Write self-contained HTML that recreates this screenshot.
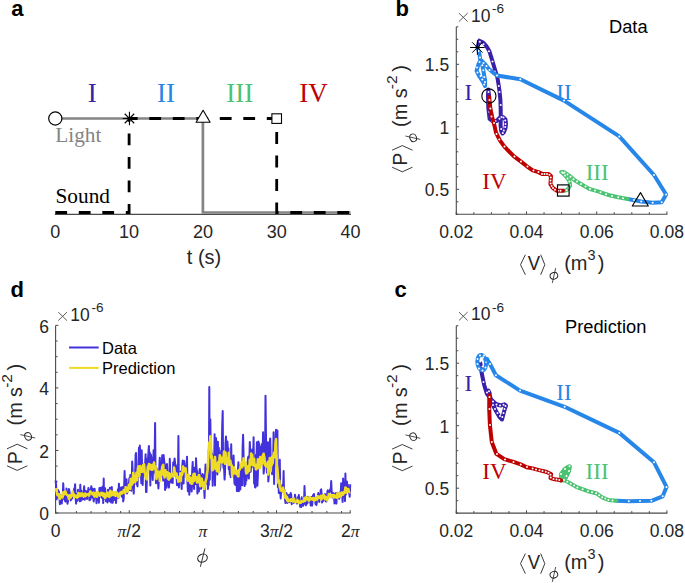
<!DOCTYPE html>
<html><head><meta charset="utf-8"><style>html,body{margin:0;padding:0;background:#fff;}svg{display:block;}</style></head>
<body><svg width="685" height="583" viewBox="0 0 685 583">
<rect width="685" height="583" fill="#fff"/>
<text x="11.20" y="16.40" font-family="Liberation Sans" font-size="22" text-anchor="start" fill="#000" font-weight="bold" >a</text>
<text x="395.60" y="16.40" font-family="Liberation Sans" font-size="22" text-anchor="start" fill="#000" font-weight="bold" >b</text>
<text x="10.60" y="297.30" font-family="Liberation Sans" font-size="22" text-anchor="start" fill="#000" font-weight="bold" >d</text>
<text x="394.60" y="297.30" font-family="Liberation Sans" font-size="22" text-anchor="start" fill="#000" font-weight="bold" >c</text>
<line x1="54.80" y1="214.40" x2="351.00" y2="214.40" stroke="#4a4a4a" stroke-width="1.1"/>
<text x="55.30" y="238.30" font-family="Liberation Sans" font-size="18" text-anchor="middle" fill="#262626" >0</text>
<text x="129.10" y="238.30" font-family="Liberation Sans" font-size="18" text-anchor="middle" fill="#262626" >10</text>
<text x="202.90" y="238.30" font-family="Liberation Sans" font-size="18" text-anchor="middle" fill="#262626" >20</text>
<text x="276.70" y="238.30" font-family="Liberation Sans" font-size="18" text-anchor="middle" fill="#262626" >30</text>
<text x="350.50" y="238.30" font-family="Liberation Sans" font-size="18" text-anchor="middle" fill="#262626" >40</text>
<text x="204.00" y="263.50" font-family="Liberation Sans" font-size="20" text-anchor="middle" fill="#262626" >t (s)</text>
<path d="M55.3,118.5 H202.89999999999998 V212.5 H350.5" fill="none" stroke="#848484" stroke-width="2.7"/>
<path d="M55.3,212.5 H129.1 V118.5 H276.7 V212.5 H350.5" fill="none" stroke="#000" stroke-width="2.8" stroke-dasharray="11.8 11.7"/>
<circle cx="55.3" cy="118.5" r="6.6" fill="#fff" stroke="#000" stroke-width="1.2"/>
<path d="M122.75,118.50L136.15,118.50M124.71,113.76L134.19,123.24M129.45,111.80L129.45,125.20M134.19,113.76L124.71,123.24" stroke="#000" stroke-width="1.1" fill="none"/>
<path d="M203.1,110.3 L210.1,122.2 L196.1,122.2 Z" fill="#fff" stroke="#000" stroke-width="1.1" stroke-linejoin="round"/>
<rect x="271.90" y="113.8" width="9.6" height="9.6" fill="#fff" stroke="#000" stroke-width="1.1"/>
<text x="92.20" y="101.80" font-family="Liberation Serif" font-size="27" text-anchor="middle" fill="#3a1fa8" >I</text>
<text x="166.00" y="101.80" font-family="Liberation Serif" font-size="27" text-anchor="middle" fill="#2787e8" >II</text>
<text x="239.80" y="101.80" font-family="Liberation Serif" font-size="27" text-anchor="middle" fill="#4cc373" >III</text>
<text x="313.60" y="101.80" font-family="Liberation Serif" font-size="27" text-anchor="middle" fill="#be0000" >IV</text>
<text x="55.30" y="142.00" font-family="Liberation Serif" font-size="21.3" text-anchor="start" fill="#848484" >Light</text>
<text x="55.50" y="202.60" font-family="Liberation Serif" font-size="21.3" text-anchor="start" fill="#000" >Sound</text>
<line x1="456.30" y1="26.80" x2="456.30" y2="214.70" stroke="#4a4a4a" stroke-width="1.1"/>
<line x1="455.80" y1="214.20" x2="667.40" y2="214.20" stroke="#4a4a4a" stroke-width="1.1"/>
<line x1="456.30" y1="214.20" x2="456.30" y2="211.40" stroke="#4a4a4a" stroke-width="1.0"/>
<line x1="473.85" y1="214.20" x2="473.85" y2="212.20" stroke="#4a4a4a" stroke-width="1.0"/>
<line x1="491.40" y1="214.20" x2="491.40" y2="212.20" stroke="#4a4a4a" stroke-width="1.0"/>
<line x1="508.95" y1="214.20" x2="508.95" y2="212.20" stroke="#4a4a4a" stroke-width="1.0"/>
<line x1="526.50" y1="214.20" x2="526.50" y2="211.40" stroke="#4a4a4a" stroke-width="1.0"/>
<line x1="544.05" y1="214.20" x2="544.05" y2="212.20" stroke="#4a4a4a" stroke-width="1.0"/>
<line x1="561.60" y1="214.20" x2="561.60" y2="212.20" stroke="#4a4a4a" stroke-width="1.0"/>
<line x1="579.15" y1="214.20" x2="579.15" y2="212.20" stroke="#4a4a4a" stroke-width="1.0"/>
<line x1="596.70" y1="214.20" x2="596.70" y2="211.40" stroke="#4a4a4a" stroke-width="1.0"/>
<line x1="614.25" y1="214.20" x2="614.25" y2="212.20" stroke="#4a4a4a" stroke-width="1.0"/>
<line x1="631.80" y1="214.20" x2="631.80" y2="212.20" stroke="#4a4a4a" stroke-width="1.0"/>
<line x1="649.35" y1="214.20" x2="649.35" y2="212.20" stroke="#4a4a4a" stroke-width="1.0"/>
<line x1="666.90" y1="214.20" x2="666.90" y2="211.40" stroke="#4a4a4a" stroke-width="1.0"/>
<line x1="456.30" y1="214.30" x2="458.30" y2="214.30" stroke="#4a4a4a" stroke-width="1.0"/>
<line x1="456.30" y1="201.80" x2="458.30" y2="201.80" stroke="#4a4a4a" stroke-width="1.0"/>
<line x1="456.30" y1="189.30" x2="459.10" y2="189.30" stroke="#4a4a4a" stroke-width="1.0"/>
<line x1="456.30" y1="176.80" x2="458.30" y2="176.80" stroke="#4a4a4a" stroke-width="1.0"/>
<line x1="456.30" y1="164.30" x2="458.30" y2="164.30" stroke="#4a4a4a" stroke-width="1.0"/>
<line x1="456.30" y1="151.80" x2="458.30" y2="151.80" stroke="#4a4a4a" stroke-width="1.0"/>
<line x1="456.30" y1="139.30" x2="458.30" y2="139.30" stroke="#4a4a4a" stroke-width="1.0"/>
<line x1="456.30" y1="126.80" x2="459.10" y2="126.80" stroke="#4a4a4a" stroke-width="1.0"/>
<line x1="456.30" y1="114.30" x2="458.30" y2="114.30" stroke="#4a4a4a" stroke-width="1.0"/>
<line x1="456.30" y1="101.80" x2="458.30" y2="101.80" stroke="#4a4a4a" stroke-width="1.0"/>
<line x1="456.30" y1="89.30" x2="458.30" y2="89.30" stroke="#4a4a4a" stroke-width="1.0"/>
<line x1="456.30" y1="76.80" x2="458.30" y2="76.80" stroke="#4a4a4a" stroke-width="1.0"/>
<line x1="456.30" y1="64.30" x2="459.10" y2="64.30" stroke="#4a4a4a" stroke-width="1.0"/>
<line x1="456.30" y1="51.80" x2="458.30" y2="51.80" stroke="#4a4a4a" stroke-width="1.0"/>
<line x1="456.30" y1="39.30" x2="458.30" y2="39.30" stroke="#4a4a4a" stroke-width="1.0"/>
<line x1="456.30" y1="26.80" x2="458.30" y2="26.80" stroke="#4a4a4a" stroke-width="1.0"/>
<text x="456.30" y="238.30" font-family="Liberation Sans" font-size="17.5" text-anchor="middle" fill="#262626" >0.02</text>
<text x="526.50" y="238.30" font-family="Liberation Sans" font-size="17.5" text-anchor="middle" fill="#262626" >0.04</text>
<text x="596.70" y="238.30" font-family="Liberation Sans" font-size="17.5" text-anchor="middle" fill="#262626" >0.06</text>
<text x="666.90" y="238.30" font-family="Liberation Sans" font-size="17.5" text-anchor="middle" fill="#262626" >0.08</text>
<text x="449.20" y="196.10" font-family="Liberation Sans" font-size="17.5" text-anchor="end" fill="#262626" >0.5</text>
<text x="449.20" y="133.60" font-family="Liberation Sans" font-size="17.5" text-anchor="end" fill="#262626" >1</text>
<text x="449.20" y="71.10" font-family="Liberation Sans" font-size="17.5" text-anchor="end" fill="#262626" >1.5</text>
<path d="M458.90,13.10 L467.70,21.60 M467.70,13.10 L458.90,21.60" stroke="#555" stroke-width="0.95" fill="none"/>
<text x="471.00" y="21.50" font-family="Liberation Sans" font-size="17.5" text-anchor="start" fill="#262626" >10</text>
<text x="492.10" y="13.20" font-family="Liberation Sans" font-size="13.6" text-anchor="start" fill="#262626" >-6</text>
<g transform="translate(406.80,171.80) rotate(-90)"><path d="M4.6,-14.7 L0,-4.5 L4.6,5.7" fill="none" stroke="#262626" stroke-width="0.9"/><text x="6.4" y="0" font-family="Liberation Sans" font-size="19.3" fill="#262626">P</text><path d="M21.6,-14.7 L26.2,-4.5 L21.6,5.7" fill="none" stroke="#262626" stroke-width="0.9"/><ellipse cx="34.00" cy="6.40" rx="3.9" ry="3.3" transform="rotate(-22 34.00 6.40)" fill="none" stroke="#262626" stroke-width="0.95"/><line x1="35.80" y1="-1.40" x2="32.40" y2="13.50" stroke="#262626" stroke-width="0.81"/><text x="44.8" y="0" font-family="Liberation Sans" font-size="20" fill="#262626">(</text><text x="51.6" y="0" font-family="Liberation Sans" font-size="20" fill="#262626">m</text><text x="73.5" y="0" font-family="Liberation Sans" font-size="20" fill="#262626">s</text><text x="82.6" y="-10" font-family="Liberation Sans" font-size="15.5" fill="#262626">-2</text><text x="100.0" y="0" font-family="Liberation Sans" font-size="20" fill="#262626">)</text></g>
<path d="M525.40,254.70 L520.50,264.70 L525.40,274.80" fill="none" stroke="#262626" stroke-width="0.9"/>
<text x="527.80" y="270.00" font-family="Liberation Sans" font-size="19.5" fill="#262626" transform="translate(527.80,270.00) scale(0.95,1.06) translate(-527.80,-270.00)">V</text>
<path d="M540.70,254.70 L544.80,264.70 L540.70,274.80" fill="none" stroke="#262626" stroke-width="0.9"/>
<ellipse cx="553.90" cy="275.80" rx="3.9" ry="3.3" transform="rotate(-22 553.90 275.80)" fill="none" stroke="#262626" stroke-width="0.95"/><line x1="555.70" y1="268.10" x2="552.30" y2="283.00" stroke="#262626" stroke-width="0.81"/>
<text x="564.30" y="270.00" font-family="Liberation Sans" font-size="20" text-anchor="start" fill="#262626" >(</text>
<text x="570.70" y="270.00" font-family="Liberation Sans" font-size="20" text-anchor="start" fill="#262626" >m</text>
<text x="587.50" y="260.20" font-family="Liberation Sans" font-size="14.5" text-anchor="start" fill="#262626" >3</text>
<text x="597.70" y="270.00" font-family="Liberation Sans" font-size="20" text-anchor="start" fill="#262626" >)</text>
<text x="609.00" y="33.30" font-family="Liberation Sans" font-size="18.3" text-anchor="start" fill="#000" >Data</text>
<line x1="456.30" y1="325.70" x2="456.30" y2="513.60" stroke="#4a4a4a" stroke-width="1.1"/>
<line x1="455.80" y1="513.10" x2="667.40" y2="513.10" stroke="#4a4a4a" stroke-width="1.1"/>
<line x1="456.30" y1="513.10" x2="456.30" y2="510.30" stroke="#4a4a4a" stroke-width="1.0"/>
<line x1="473.85" y1="513.10" x2="473.85" y2="511.10" stroke="#4a4a4a" stroke-width="1.0"/>
<line x1="491.40" y1="513.10" x2="491.40" y2="511.10" stroke="#4a4a4a" stroke-width="1.0"/>
<line x1="508.95" y1="513.10" x2="508.95" y2="511.10" stroke="#4a4a4a" stroke-width="1.0"/>
<line x1="526.50" y1="513.10" x2="526.50" y2="510.30" stroke="#4a4a4a" stroke-width="1.0"/>
<line x1="544.05" y1="513.10" x2="544.05" y2="511.10" stroke="#4a4a4a" stroke-width="1.0"/>
<line x1="561.60" y1="513.10" x2="561.60" y2="511.10" stroke="#4a4a4a" stroke-width="1.0"/>
<line x1="579.15" y1="513.10" x2="579.15" y2="511.10" stroke="#4a4a4a" stroke-width="1.0"/>
<line x1="596.70" y1="513.10" x2="596.70" y2="510.30" stroke="#4a4a4a" stroke-width="1.0"/>
<line x1="614.25" y1="513.10" x2="614.25" y2="511.10" stroke="#4a4a4a" stroke-width="1.0"/>
<line x1="631.80" y1="513.10" x2="631.80" y2="511.10" stroke="#4a4a4a" stroke-width="1.0"/>
<line x1="649.35" y1="513.10" x2="649.35" y2="511.10" stroke="#4a4a4a" stroke-width="1.0"/>
<line x1="666.90" y1="513.10" x2="666.90" y2="510.30" stroke="#4a4a4a" stroke-width="1.0"/>
<line x1="456.30" y1="513.20" x2="458.30" y2="513.20" stroke="#4a4a4a" stroke-width="1.0"/>
<line x1="456.30" y1="500.70" x2="458.30" y2="500.70" stroke="#4a4a4a" stroke-width="1.0"/>
<line x1="456.30" y1="488.20" x2="459.10" y2="488.20" stroke="#4a4a4a" stroke-width="1.0"/>
<line x1="456.30" y1="475.70" x2="458.30" y2="475.70" stroke="#4a4a4a" stroke-width="1.0"/>
<line x1="456.30" y1="463.20" x2="458.30" y2="463.20" stroke="#4a4a4a" stroke-width="1.0"/>
<line x1="456.30" y1="450.70" x2="458.30" y2="450.70" stroke="#4a4a4a" stroke-width="1.0"/>
<line x1="456.30" y1="438.20" x2="458.30" y2="438.20" stroke="#4a4a4a" stroke-width="1.0"/>
<line x1="456.30" y1="425.70" x2="459.10" y2="425.70" stroke="#4a4a4a" stroke-width="1.0"/>
<line x1="456.30" y1="413.20" x2="458.30" y2="413.20" stroke="#4a4a4a" stroke-width="1.0"/>
<line x1="456.30" y1="400.70" x2="458.30" y2="400.70" stroke="#4a4a4a" stroke-width="1.0"/>
<line x1="456.30" y1="388.20" x2="458.30" y2="388.20" stroke="#4a4a4a" stroke-width="1.0"/>
<line x1="456.30" y1="375.70" x2="458.30" y2="375.70" stroke="#4a4a4a" stroke-width="1.0"/>
<line x1="456.30" y1="363.20" x2="459.10" y2="363.20" stroke="#4a4a4a" stroke-width="1.0"/>
<line x1="456.30" y1="350.70" x2="458.30" y2="350.70" stroke="#4a4a4a" stroke-width="1.0"/>
<line x1="456.30" y1="338.20" x2="458.30" y2="338.20" stroke="#4a4a4a" stroke-width="1.0"/>
<line x1="456.30" y1="325.70" x2="458.30" y2="325.70" stroke="#4a4a4a" stroke-width="1.0"/>
<text x="456.30" y="537.20" font-family="Liberation Sans" font-size="17.5" text-anchor="middle" fill="#262626" >0.02</text>
<text x="526.50" y="537.20" font-family="Liberation Sans" font-size="17.5" text-anchor="middle" fill="#262626" >0.04</text>
<text x="596.70" y="537.20" font-family="Liberation Sans" font-size="17.5" text-anchor="middle" fill="#262626" >0.06</text>
<text x="666.90" y="537.20" font-family="Liberation Sans" font-size="17.5" text-anchor="middle" fill="#262626" >0.08</text>
<text x="449.20" y="495.00" font-family="Liberation Sans" font-size="17.5" text-anchor="end" fill="#262626" >0.5</text>
<text x="449.20" y="432.50" font-family="Liberation Sans" font-size="17.5" text-anchor="end" fill="#262626" >1</text>
<text x="449.20" y="370.00" font-family="Liberation Sans" font-size="17.5" text-anchor="end" fill="#262626" >1.5</text>
<path d="M458.90,312.00 L467.70,320.50 M467.70,312.00 L458.90,320.50" stroke="#555" stroke-width="0.95" fill="none"/>
<text x="471.00" y="320.40" font-family="Liberation Sans" font-size="17.5" text-anchor="start" fill="#262626" >10</text>
<text x="492.10" y="312.10" font-family="Liberation Sans" font-size="13.6" text-anchor="start" fill="#262626" >-6</text>
<g transform="translate(406.80,470.70) rotate(-90)"><path d="M4.6,-14.7 L0,-4.5 L4.6,5.7" fill="none" stroke="#262626" stroke-width="0.9"/><text x="6.4" y="0" font-family="Liberation Sans" font-size="19.3" fill="#262626">P</text><path d="M21.6,-14.7 L26.2,-4.5 L21.6,5.7" fill="none" stroke="#262626" stroke-width="0.9"/><ellipse cx="34.00" cy="6.40" rx="3.9" ry="3.3" transform="rotate(-22 34.00 6.40)" fill="none" stroke="#262626" stroke-width="0.95"/><line x1="35.80" y1="-1.40" x2="32.40" y2="13.50" stroke="#262626" stroke-width="0.81"/><text x="44.8" y="0" font-family="Liberation Sans" font-size="20" fill="#262626">(</text><text x="51.6" y="0" font-family="Liberation Sans" font-size="20" fill="#262626">m</text><text x="73.5" y="0" font-family="Liberation Sans" font-size="20" fill="#262626">s</text><text x="82.6" y="-10" font-family="Liberation Sans" font-size="15.5" fill="#262626">-2</text><text x="100.0" y="0" font-family="Liberation Sans" font-size="20" fill="#262626">)</text></g>
<path d="M525.40,553.60 L520.50,563.60 L525.40,573.70" fill="none" stroke="#262626" stroke-width="0.9"/>
<text x="527.80" y="568.90" font-family="Liberation Sans" font-size="19.5" fill="#262626" transform="translate(527.80,568.90) scale(0.95,1.06) translate(-527.80,-568.90)">V</text>
<path d="M540.70,553.60 L544.80,563.60 L540.70,573.70" fill="none" stroke="#262626" stroke-width="0.9"/>
<ellipse cx="553.90" cy="574.70" rx="3.9" ry="3.3" transform="rotate(-22 553.90 574.70)" fill="none" stroke="#262626" stroke-width="0.95"/><line x1="555.70" y1="567.00" x2="552.30" y2="581.90" stroke="#262626" stroke-width="0.81"/>
<text x="564.30" y="568.90" font-family="Liberation Sans" font-size="20" text-anchor="start" fill="#262626" >(</text>
<text x="570.70" y="568.90" font-family="Liberation Sans" font-size="20" text-anchor="start" fill="#262626" >m</text>
<text x="587.50" y="559.10" font-family="Liberation Sans" font-size="14.5" text-anchor="start" fill="#262626" >3</text>
<text x="597.70" y="568.90" font-family="Liberation Sans" font-size="20" text-anchor="start" fill="#262626" >)</text>
<text x="565.00" y="333.30" font-family="Liberation Sans" font-size="18.3" text-anchor="start" fill="#000" >Prediction</text>
<polyline points="489.2,97.0 488.3,89.5 488.0,96.0 488.3,107.7 489.6,118.9 493.0,121.5 496.5,121.0 499.5,118.0 503.0,117.0 505.5,119.5 506.0,124.0 505.5,128.0 504.0,132.0 502.5,133.5 501.2,131.0 500.6,126.0 500.7,120.0 500.7,110.0 500.4,100.0 499.5,91.0 498.8,86.0 497.4,77.5 494.5,68.0 491.7,58.6 489.3,51.0 486.5,46.3 483.2,42.5 479.4,40.7 477.5,47.3" fill="none" stroke="#3a1fa8" stroke-width="4.0" stroke-linejoin="round" stroke-linecap="round" />
<g fill="#fff"><circle cx="488.5" cy="92.0" r="1.0"/><circle cx="488.2" cy="103.0" r="1.0"/><circle cx="489.3" cy="112.0" r="1.0"/><circle cx="492.0" cy="121.0" r="1.0"/><circle cx="495.5" cy="121.0" r="1.0"/><circle cx="499.5" cy="118.7" r="1.0"/><circle cx="501.5" cy="117.0" r="1.0"/><circle cx="503.5" cy="117.5" r="1.0"/><circle cx="505.2" cy="120.5" r="1.0"/><circle cx="505.5" cy="124.0" r="1.0"/><circle cx="505.2" cy="127.0" r="1.0"/><circle cx="503.8" cy="130.5" r="1.0"/><circle cx="502.8" cy="133.0" r="1.0"/><circle cx="501.2" cy="129.0" r="1.0"/><circle cx="500.7" cy="105.0" r="1.0"/><circle cx="499.5" cy="92.0" r="1.0"/><circle cx="498.8" cy="86.0" r="1.0"/><circle cx="496.2" cy="75.5" r="1.0"/><circle cx="494.8" cy="71.5" r="1.0"/><circle cx="492.5" cy="61.5" r="1.0"/><circle cx="489.0" cy="51.3" r="1.0"/><circle cx="483.5" cy="44.2" r="1.0"/><circle cx="479.8" cy="41.8" r="1.0"/></g>
<polyline points="477.5,47.3 479.4,53.9 480.4,60.5 478.5,64.2 476.6,70.8 479.4,76.5 483.2,82.2 485.1,86.0 485.1,80.3 483.7,72.7 482.3,65.2 481.3,60.5 485.1,64.2 488.9,69.0 494.5,73.7 497.0,75.5 520.3,79.3 564.0,100.6 619.3,136.4 654.0,175.0 666.1,194.5 661.7,202.2 652.7,202.7 641.2,201.5 627.8,199.0" fill="none" stroke="#2787e8" stroke-width="4.0" stroke-linejoin="round" stroke-linecap="round" />
<g fill="#fff"><circle cx="478.5" cy="51.0" r="1.0"/><circle cx="480.0" cy="57.5" r="1.0"/><circle cx="479.5" cy="62.0" r="1.0"/><circle cx="477.0" cy="67.5" r="1.0"/><circle cx="477.5" cy="72.5" r="1.0"/><circle cx="480.5" cy="76.0" r="1.0"/><circle cx="482.3" cy="79.5" r="1.0"/><circle cx="484.2" cy="84.5" r="1.0"/><circle cx="485.0" cy="82.0" r="1.0"/><circle cx="484.3" cy="77.0" r="1.0"/><circle cx="483.3" cy="70.3" r="1.0"/><circle cx="482.3" cy="65.3" r="1.0"/><circle cx="483.5" cy="63.0" r="1.0"/><circle cx="486.5" cy="66.0" r="1.0"/><circle cx="489.5" cy="70.0" r="1.0"/><circle cx="497.0" cy="75.5" r="1.0"/><circle cx="520.3" cy="79.3" r="1.0"/><circle cx="564.0" cy="100.6" r="1.0"/><circle cx="619.3" cy="136.4" r="1.0"/><circle cx="654.0" cy="175.0" r="1.0"/><circle cx="666.1" cy="194.5" r="1.0"/><circle cx="661.7" cy="202.2" r="1.0"/><circle cx="652.7" cy="202.7" r="1.0"/><circle cx="641.2" cy="201.5" r="1.0"/><circle cx="634.0" cy="200.0" r="1.0"/></g>
<polyline points="563.0,190.8 566.6,190.2 568.7,188.1 570.2,185.4 569.6,181.8 567.8,178.8 565.4,175.8 562.4,172.8 561.2,171.9 563.6,171.9 567.8,174.6 572.0,177.9 575.0,180.6 579.2,183.0 583.4,185.4 589.3,188.9 598.9,191.6 602.1,192.9 608.5,195.0 618.2,197.3 627.8,199.0" fill="none" stroke="#4cc373" stroke-width="4.0" stroke-linejoin="round" stroke-linecap="round" />
<g fill="#fff"><circle cx="566.6" cy="190.2" r="1.0"/><circle cx="568.7" cy="188.1" r="1.0"/><circle cx="569.8" cy="185.0" r="1.0"/><circle cx="569.4" cy="181.5" r="1.0"/><circle cx="567.5" cy="178.5" r="1.0"/><circle cx="565.0" cy="175.5" r="1.0"/><circle cx="563.0" cy="173.0" r="1.0"/><circle cx="562.0" cy="172.2" r="1.0"/><circle cx="564.5" cy="172.4" r="1.0"/><circle cx="567.5" cy="174.4" r="1.0"/><circle cx="570.5" cy="176.8" r="1.0"/><circle cx="573.5" cy="179.3" r="1.0"/><circle cx="577.0" cy="181.6" r="1.0"/><circle cx="581.0" cy="184.0" r="1.0"/><circle cx="585.5" cy="186.6" r="1.0"/><circle cx="590.0" cy="189.0" r="1.0"/><circle cx="595.0" cy="190.6" r="1.0"/><circle cx="600.5" cy="192.2" r="1.0"/><circle cx="606.0" cy="194.3" r="1.0"/><circle cx="612.0" cy="196.0" r="1.0"/><circle cx="618.2" cy="197.3" r="1.0"/><circle cx="623.0" cy="198.2" r="1.0"/></g>
<polyline points="563.0,190.8 557.0,190.8 552.8,187.8 550.4,184.2 550.7,180.6 551.0,176.1 548.6,174.0 545.0,174.0 542.0,173.9 538.5,172.1 532.7,170.4 526.9,166.3 521.0,161.6 514.0,156.4 507.6,150.0 504.2,146.3 499.9,140.3 496.0,132.6 494.3,124.9 492.2,117.2 490.4,108.6 489.2,97.0" fill="none" stroke="#be0000" stroke-width="4.0" stroke-linejoin="round" stroke-linecap="round" />
<g fill="#fff"><circle cx="560.5" cy="190.8" r="1.0"/><circle cx="558.0" cy="190.8" r="1.0"/><circle cx="555.0" cy="189.8" r="1.0"/><circle cx="553.0" cy="188.0" r="1.0"/><circle cx="551.6" cy="186.0" r="1.0"/><circle cx="550.6" cy="183.5" r="1.0"/><circle cx="550.5" cy="180.5" r="1.0"/><circle cx="550.8" cy="177.5" r="1.0"/><circle cx="549.5" cy="174.7" r="1.0"/><circle cx="547.0" cy="174.0" r="1.0"/><circle cx="544.5" cy="174.0" r="1.0"/><circle cx="542.0" cy="173.9" r="1.0"/><circle cx="538.5" cy="172.1" r="1.0"/><circle cx="533.5" cy="170.4" r="1.0"/><circle cx="527.5" cy="166.6" r="1.0"/><circle cx="521.0" cy="161.6" r="1.0"/><circle cx="514.5" cy="156.4" r="1.0"/><circle cx="504.5" cy="146.4" r="1.0"/><circle cx="499.3" cy="139.4" r="1.0"/><circle cx="496.5" cy="134.0" r="1.0"/><circle cx="494.0" cy="123.0" r="1.0"/><circle cx="491.5" cy="116.5" r="1.0"/><circle cx="490.4" cy="108.6" r="1.0"/><circle cx="489.5" cy="100.0" r="1.0"/></g>
<path d="M470.10,47.50L484.70,47.50M472.24,42.34L482.56,52.66M477.40,40.20L477.40,54.80M482.56,42.34L472.24,52.66" stroke="#000" stroke-width="1.0" fill="none"/>
<circle cx="488.9" cy="96" r="7.1" fill="none" stroke="#000" stroke-width="1.1"/>
<rect x="557.5" y="184.9" width="11.6" height="11.2" fill="none" stroke="#000" stroke-width="1.2"/>
<path d="M640.5,192.6 L648.3,206.0 L632.3,206.0 Z" fill="none" stroke="#000" stroke-width="1.1" stroke-linejoin="round"/>
<text x="468.40" y="99.70" font-family="Liberation Serif" font-size="23" text-anchor="middle" fill="#3a1fa8" >I</text>
<text x="564.00" y="99.70" font-family="Liberation Serif" font-size="23" text-anchor="middle" fill="#2787e8" >II</text>
<text x="597.20" y="179.50" font-family="Liberation Serif" font-size="23" text-anchor="middle" fill="#4cc373" >III</text>
<text x="494.50" y="188.80" font-family="Liberation Serif" font-size="23" text-anchor="middle" fill="#be0000" >IV</text>
<polyline points="480.3,362.9 481.8,373.7 484.2,385.0 486.9,393.9 491.7,400.1 496.0,404.0 500.6,405.5 504.5,404.3 506.0,405.5 504.5,410.0 502.0,419.5 499.5,417.0 496.0,411.0 492.5,404.0 490.7,398.7 489.0,391.9 488.3,390.5 489.8,393.5" fill="none" stroke="#3a1fa8" stroke-width="4.0" stroke-linejoin="round" stroke-linecap="round" />
<g fill="#fff"><circle cx="483.5" cy="382.0" r="1.0"/><circle cx="487.0" cy="392.5" r="1.0"/><circle cx="489.0" cy="391.2" r="1.0"/><circle cx="493.0" cy="401.5" r="1.0"/><circle cx="496.5" cy="404.5" r="1.0"/><circle cx="500.0" cy="405.5" r="1.0"/><circle cx="503.5" cy="404.8" r="1.0"/><circle cx="505.5" cy="406.0" r="1.0"/><circle cx="504.5" cy="409.0" r="1.0"/><circle cx="503.5" cy="413.0" r="1.0"/><circle cx="502.3" cy="417.0" r="1.0"/><circle cx="500.0" cy="416.0" r="1.0"/><circle cx="497.5" cy="413.0" r="1.0"/><circle cx="495.0" cy="409.0" r="1.0"/><circle cx="493.0" cy="405.0" r="1.0"/></g>
<polyline points="485.1,358.8 484.3,357.2 483.3,355.9 482.2,355.2 481.1,354.9 480.0,355.2 479.0,355.9 478.2,357.2 477.7,358.8 477.4,360.6 477.4,362.6 477.7,364.6 478.3,366.4 479.1,368.0 480.1,369.3 481.2,370.0 482.3,370.3 483.4,370.0 484.4,369.3 485.2,368.0 485.7,366.4 486.0,364.6 486.0,362.6 485.7,360.6 485.1,358.8 487.0,359.0" fill="none" stroke="#2787e8" stroke-width="4.0" stroke-linejoin="round" stroke-linecap="round" />
<g fill="#fff"><circle cx="484.0" cy="355.5" r="1.0"/><circle cx="480.0" cy="355.5" r="1.0"/><circle cx="477.5" cy="359.0" r="1.0"/><circle cx="477.5" cy="364.0" r="1.0"/><circle cx="479.0" cy="368.5" r="1.0"/><circle cx="482.5" cy="370.5" r="1.0"/><circle cx="485.5" cy="367.5" r="1.0"/><circle cx="486.3" cy="362.0" r="1.0"/><circle cx="483.0" cy="357.5" r="1.0"/><circle cx="480.3" cy="361.5" r="1.0"/><circle cx="482.5" cy="366.5" r="1.0"/><circle cx="487.0" cy="359.5" r="1.0"/><circle cx="488.8" cy="362.5" r="1.0"/></g>
<polyline points="487.0,359.0 490.0,364.0 495.9,375.3 520.0,390.6 564.6,406.8 619.3,432.9 654.0,462.3 666.5,486.9 662.7,496.3 651.4,500.8 640.0,501.1 628.8,501.2 616.5,500.8" fill="none" stroke="#2787e8" stroke-width="4.0" stroke-linejoin="round" stroke-linecap="round" />
<g fill="#fff"><circle cx="490.0" cy="364.0" r="1.0"/><circle cx="495.9" cy="375.3" r="1.0"/><circle cx="520.0" cy="390.6" r="1.0"/><circle cx="564.6" cy="406.8" r="1.0"/><circle cx="619.3" cy="432.9" r="1.0"/><circle cx="654.0" cy="462.3" r="1.0"/><circle cx="666.5" cy="486.9" r="1.0"/><circle cx="662.7" cy="496.3" r="1.0"/><circle cx="651.4" cy="500.8" r="1.0"/><circle cx="640.0" cy="501.1" r="1.0"/><circle cx="628.8" cy="501.2" r="1.0"/></g>
<polygon points="561,480.5 560.8,473.5 563.8,468.6 568,465.8 570.8,466 570.5,469 568.5,474 566.5,478.8 563.5,481.5" fill="#4cc373" stroke="#4cc373" stroke-width="2" stroke-linejoin="round"/>
<polyline points="561.0,480.5 561.0,474.0 565.0,469.0 569.5,466.3 569.0,471.0 566.5,476.0 564.0,480.0 567.4,481.8 577.4,487.4 587.9,491.2 596.1,493.2 602.2,497.3 608.4,500.0 616.5,500.8" fill="none" stroke="#4cc373" stroke-width="4.0" stroke-linejoin="round" stroke-linecap="round" />
<g fill="#fff"><circle cx="561.0" cy="474.0" r="1.0"/><circle cx="565.0" cy="469.0" r="1.0"/><circle cx="569.5" cy="466.3" r="1.0"/><circle cx="569.0" cy="471.0" r="1.0"/><circle cx="566.5" cy="476.0" r="1.0"/><circle cx="564.0" cy="480.0" r="1.0"/><circle cx="567.4" cy="481.8" r="1.0"/><circle cx="570.7" cy="483.7" r="1.0"/><circle cx="574.1" cy="485.5" r="1.0"/><circle cx="577.4" cy="487.4" r="1.0"/><circle cx="582.6" cy="489.3" r="1.0"/><circle cx="587.9" cy="491.2" r="1.0"/><circle cx="592.0" cy="492.2" r="1.0"/><circle cx="596.1" cy="493.2" r="1.0"/><circle cx="599.2" cy="495.2" r="1.0"/><circle cx="602.2" cy="497.3" r="1.0"/><circle cx="605.3" cy="498.6" r="1.0"/><circle cx="608.4" cy="500.0" r="1.0"/><circle cx="612.5" cy="500.4" r="1.0"/></g>
<polyline points="489.3,395.3 489.2,409.0 489.9,425.0 491.8,442.1 496.4,453.9 504.3,459.2 513.5,461.8 520.7,464.4 526.6,467.3 532.6,468.4 539.1,470.1 545.8,471.7 551.1,474.0 550.5,478.1 554.6,479.3 559.9,479.9 561.0,480.5" fill="none" stroke="#be0000" stroke-width="4.0" stroke-linejoin="round" stroke-linecap="round" />
<g fill="#fff"><circle cx="489.5" cy="397.0" r="1.0"/><circle cx="489.5" cy="409.0" r="1.0"/><circle cx="490.0" cy="425.0" r="1.0"/><circle cx="491.8" cy="442.0" r="1.0"/><circle cx="497.0" cy="454.0" r="1.0"/><circle cx="505.0" cy="459.5" r="1.0"/><circle cx="513.5" cy="462.0" r="1.0"/><circle cx="520.7" cy="464.5" r="1.0"/><circle cx="527.0" cy="467.0" r="1.0"/><circle cx="532.6" cy="468.5" r="1.0"/><circle cx="536.0" cy="469.5" r="1.0"/><circle cx="539.5" cy="470.3" r="1.0"/><circle cx="542.5" cy="471.0" r="1.0"/><circle cx="545.8" cy="471.7" r="1.0"/><circle cx="548.5" cy="472.7" r="1.0"/><circle cx="550.5" cy="474.8" r="1.0"/><circle cx="550.8" cy="477.6" r="1.0"/><circle cx="553.5" cy="479.0" r="1.0"/><circle cx="556.5" cy="479.5" r="1.0"/><circle cx="559.3" cy="480.0" r="1.0"/></g>
<text x="468.40" y="390.50" font-family="Liberation Serif" font-size="23" text-anchor="middle" fill="#3a1fa8" >I</text>
<text x="564.00" y="399.70" font-family="Liberation Serif" font-size="23" text-anchor="middle" fill="#2787e8" >II</text>
<text x="597.10" y="478.80" font-family="Liberation Serif" font-size="23" text-anchor="middle" fill="#4cc373" >III</text>
<text x="494.50" y="479.40" font-family="Liberation Serif" font-size="23" text-anchor="middle" fill="#be0000" >IV</text>
<line x1="55.60" y1="325.38" x2="55.60" y2="513.50" stroke="#4a4a4a" stroke-width="1.1"/>
<line x1="55.10" y1="513.00" x2="350.70" y2="513.00" stroke="#4a4a4a" stroke-width="1.1"/>
<line x1="55.60" y1="513.00" x2="58.40" y2="513.00" stroke="#4a4a4a" stroke-width="1.0"/>
<line x1="55.60" y1="497.37" x2="57.60" y2="497.37" stroke="#4a4a4a" stroke-width="1.0"/>
<line x1="55.60" y1="481.73" x2="57.60" y2="481.73" stroke="#4a4a4a" stroke-width="1.0"/>
<line x1="55.60" y1="466.10" x2="57.60" y2="466.10" stroke="#4a4a4a" stroke-width="1.0"/>
<line x1="55.60" y1="450.46" x2="58.40" y2="450.46" stroke="#4a4a4a" stroke-width="1.0"/>
<line x1="55.60" y1="434.82" x2="57.60" y2="434.82" stroke="#4a4a4a" stroke-width="1.0"/>
<line x1="55.60" y1="419.19" x2="57.60" y2="419.19" stroke="#4a4a4a" stroke-width="1.0"/>
<line x1="55.60" y1="403.56" x2="57.60" y2="403.56" stroke="#4a4a4a" stroke-width="1.0"/>
<line x1="55.60" y1="387.92" x2="58.40" y2="387.92" stroke="#4a4a4a" stroke-width="1.0"/>
<line x1="55.60" y1="372.28" x2="57.60" y2="372.28" stroke="#4a4a4a" stroke-width="1.0"/>
<line x1="55.60" y1="356.65" x2="57.60" y2="356.65" stroke="#4a4a4a" stroke-width="1.0"/>
<line x1="55.60" y1="341.01" x2="57.60" y2="341.01" stroke="#4a4a4a" stroke-width="1.0"/>
<line x1="55.60" y1="325.38" x2="58.40" y2="325.38" stroke="#4a4a4a" stroke-width="1.0"/>
<line x1="55.60" y1="513.00" x2="55.60" y2="510.20" stroke="#4a4a4a" stroke-width="1.0"/>
<line x1="76.40" y1="513.00" x2="76.40" y2="511.00" stroke="#4a4a4a" stroke-width="1.0"/>
<line x1="91.10" y1="513.00" x2="91.10" y2="511.00" stroke="#4a4a4a" stroke-width="1.0"/>
<line x1="105.90" y1="513.00" x2="105.90" y2="511.00" stroke="#4a4a4a" stroke-width="1.0"/>
<line x1="120.60" y1="513.00" x2="120.60" y2="511.00" stroke="#4a4a4a" stroke-width="1.0"/>
<line x1="129.25" y1="513.00" x2="129.25" y2="510.20" stroke="#4a4a4a" stroke-width="1.0"/>
<line x1="150.05" y1="513.00" x2="150.05" y2="511.00" stroke="#4a4a4a" stroke-width="1.0"/>
<line x1="164.75" y1="513.00" x2="164.75" y2="511.00" stroke="#4a4a4a" stroke-width="1.0"/>
<line x1="179.55" y1="513.00" x2="179.55" y2="511.00" stroke="#4a4a4a" stroke-width="1.0"/>
<line x1="194.25" y1="513.00" x2="194.25" y2="511.00" stroke="#4a4a4a" stroke-width="1.0"/>
<line x1="202.90" y1="513.00" x2="202.90" y2="510.20" stroke="#4a4a4a" stroke-width="1.0"/>
<line x1="223.70" y1="513.00" x2="223.70" y2="511.00" stroke="#4a4a4a" stroke-width="1.0"/>
<line x1="238.40" y1="513.00" x2="238.40" y2="511.00" stroke="#4a4a4a" stroke-width="1.0"/>
<line x1="253.20" y1="513.00" x2="253.20" y2="511.00" stroke="#4a4a4a" stroke-width="1.0"/>
<line x1="267.90" y1="513.00" x2="267.90" y2="511.00" stroke="#4a4a4a" stroke-width="1.0"/>
<line x1="276.55" y1="513.00" x2="276.55" y2="510.20" stroke="#4a4a4a" stroke-width="1.0"/>
<line x1="297.35" y1="513.00" x2="297.35" y2="511.00" stroke="#4a4a4a" stroke-width="1.0"/>
<line x1="312.05" y1="513.00" x2="312.05" y2="511.00" stroke="#4a4a4a" stroke-width="1.0"/>
<line x1="326.85" y1="513.00" x2="326.85" y2="511.00" stroke="#4a4a4a" stroke-width="1.0"/>
<line x1="341.55" y1="513.00" x2="341.55" y2="511.00" stroke="#4a4a4a" stroke-width="1.0"/>
<line x1="350.20" y1="513.00" x2="350.20" y2="510.20" stroke="#4a4a4a" stroke-width="1.0"/>
<text x="48.90" y="520.20" font-family="Liberation Sans" font-size="17.5" text-anchor="end" fill="#262626" >0</text>
<text x="48.90" y="457.66" font-family="Liberation Sans" font-size="17.5" text-anchor="end" fill="#262626" >2</text>
<text x="48.90" y="395.12" font-family="Liberation Sans" font-size="17.5" text-anchor="end" fill="#262626" >4</text>
<text x="48.90" y="332.58" font-family="Liberation Sans" font-size="17.5" text-anchor="end" fill="#262626" >6</text>
<text x="55.60" y="536.90" font-family="Liberation Sans" font-size="17.5" text-anchor="middle" fill="#262626" >0</text>
<text x="129.25" y="536.9" font-size="17.5" text-anchor="middle" fill="#262626"><tspan font-family="Liberation Serif" font-style="italic">&#x3c0;</tspan><tspan font-family="Liberation Sans">/2</tspan></text>
<text x="202.90" y="536.9" font-size="17.5" text-anchor="middle" fill="#262626"><tspan font-family="Liberation Serif" font-style="italic">&#x3c0;</tspan></text>
<text x="276.55" y="536.9" font-size="17.5" text-anchor="middle" fill="#262626"><tspan font-family="Liberation Sans">3</tspan><tspan font-family="Liberation Serif" font-style="italic">&#x3c0;</tspan><tspan font-family="Liberation Sans">/2</tspan></text>
<text x="350.20" y="536.9" font-size="17.5" text-anchor="middle" fill="#262626"><tspan font-family="Liberation Sans">2</tspan><tspan font-family="Liberation Serif" font-style="italic">&#x3c0;</tspan></text>
<ellipse cx="202.50" cy="558.10" rx="4.9" ry="4.0" transform="rotate(-22 202.50 558.10)" fill="none" stroke="#262626" stroke-width="1.1"/><line x1="204.90" y1="548.40" x2="200.40" y2="566.80" stroke="#262626" stroke-width="0.94"/>
<path d="M58.20,312.10 L67.00,320.60 M67.00,312.10 L58.20,320.60" stroke="#555" stroke-width="0.95" fill="none"/>
<text x="70.30" y="320.50" font-family="Liberation Sans" font-size="17.5" text-anchor="start" fill="#262626" >10</text>
<text x="91.40" y="312.20" font-family="Liberation Sans" font-size="13.6" text-anchor="start" fill="#262626" >-6</text>
<g transform="translate(21.70,470.40) rotate(-90)"><path d="M4.6,-14.7 L0,-4.5 L4.6,5.7" fill="none" stroke="#262626" stroke-width="0.9"/><text x="6.4" y="0" font-family="Liberation Sans" font-size="19.3" fill="#262626">P</text><path d="M21.6,-14.7 L26.2,-4.5 L21.6,5.7" fill="none" stroke="#262626" stroke-width="0.9"/><ellipse cx="34.00" cy="6.40" rx="3.9" ry="3.3" transform="rotate(-22 34.00 6.40)" fill="none" stroke="#262626" stroke-width="0.95"/><line x1="35.80" y1="-1.40" x2="32.40" y2="13.50" stroke="#262626" stroke-width="0.81"/><text x="44.8" y="0" font-family="Liberation Sans" font-size="20" fill="#262626">(</text><text x="51.6" y="0" font-family="Liberation Sans" font-size="20" fill="#262626">m</text><text x="73.5" y="0" font-family="Liberation Sans" font-size="20" fill="#262626">s</text><text x="82.6" y="-10" font-family="Liberation Sans" font-size="15.5" fill="#262626">-2</text><text x="100.0" y="0" font-family="Liberation Sans" font-size="20" fill="#262626">)</text></g>
<polyline points="55.6,480.3 56.1,485.0 56.6,499.3 57.0,494.7 57.5,497.6 58.0,489.9 58.5,493.8 58.9,491.4 59.4,496.7 59.9,504.3 60.4,495.5 60.8,496.6 61.3,495.6 61.8,503.4 62.3,497.0 62.7,499.5 63.2,483.3 63.7,492.2 64.2,491.0 64.6,497.2 65.1,501.1 65.6,501.6 66.1,496.5 66.5,488.5 67.0,495.6 67.5,503.8 68.0,501.1 68.5,495.1 68.9,489.0 69.4,490.8 69.9,494.1 70.4,494.6 70.8,500.4 71.3,497.1 71.8,496.1 72.3,498.4 72.7,494.4 73.2,497.0 73.7,493.6 74.2,488.6 74.6,492.3 75.1,484.2 75.6,497.6 76.1,503.6 76.5,497.0 77.0,493.7 77.5,500.8 78.0,489.8 78.4,497.2 78.9,493.5 79.4,496.8 79.9,501.3 80.3,484.8 80.8,500.9 81.3,490.5 81.8,498.0 82.3,493.9 82.7,499.4 83.2,497.5 83.7,491.1 84.2,486.2 84.6,499.8 85.1,495.7 85.6,490.9 86.1,498.5 86.5,491.6 87.0,498.9 87.5,491.6 88.0,492.2 88.4,487.9 88.9,492.2 89.4,500.3 89.9,490.1 90.3,499.7 90.8,490.0 91.3,486.2 91.8,491.3 92.2,497.4 92.7,488.7 93.2,494.2 93.7,501.4 94.2,497.2 94.6,488.7 95.1,497.2 95.6,495.0 96.1,497.2 96.5,503.2 97.0,497.7 97.5,493.2 98.0,493.8 98.4,495.6 98.9,502.8 99.4,488.1 99.9,490.5 100.3,489.0 100.8,487.7 101.3,496.9 101.8,497.8 102.2,493.2 102.7,486.4 103.2,503.1 103.7,478.6 104.1,498.8 104.6,492.6 105.1,488.3 105.6,496.7 106.0,501.3 106.5,494.7 107.0,496.2 107.5,502.5 108.0,489.8 108.4,497.0 108.9,490.4 109.4,500.9 109.9,487.7 110.3,501.5 110.8,488.3 111.3,502.6 111.8,487.1 112.2,496.4 112.7,502.7 113.2,496.1 113.7,493.3 114.1,500.1 114.6,497.6 115.1,493.6 115.6,495.8 116.0,503.0 116.5,497.0 117.0,492.5 117.5,493.1 117.9,489.3 118.4,498.0 118.9,483.7 119.4,489.8 119.9,492.2 120.3,487.8 120.8,488.2 121.3,492.7 121.8,496.5 122.2,487.0 122.7,490.0 123.2,501.4 123.7,498.3 124.1,488.5 124.6,471.1 125.1,488.8 125.6,486.1 126.0,488.9 126.5,479.3 127.0,493.4 127.5,492.0 127.9,487.0 128.4,483.9 128.9,483.4 129.4,478.0 129.8,489.9 130.3,475.0 130.8,478.4 131.3,490.7 131.7,482.0 132.2,461.4 132.7,471.7 133.2,482.9 133.7,493.6 134.1,484.6 134.6,483.9 135.1,475.4 135.6,454.7 136.0,453.0 136.5,471.1 137.0,484.2 137.5,486.4 137.9,474.9 138.4,477.2 138.9,447.7 139.4,475.3 139.8,445.5 140.3,455.2 140.8,467.4 141.3,483.3 141.7,450.3 142.2,471.3 142.7,484.9 143.2,465.3 143.6,464.3 144.1,475.1 144.6,464.1 145.1,463.9 145.6,454.2 146.0,492.0 146.5,492.0 147.0,475.1 147.5,458.6 147.9,459.6 148.4,453.3 148.9,445.9 149.4,467.4 149.8,452.6 150.3,485.6 150.8,454.5 151.3,457.2 151.7,464.3 152.2,470.0 152.7,479.9 153.2,464.0 153.6,450.3 154.1,472.4 154.6,462.1 155.1,422.9 155.5,467.6 156.0,483.3 156.5,468.3 157.0,475.9 157.4,471.1 157.9,481.8 158.4,488.5 158.9,480.0 159.4,464.9 159.8,457.8 160.3,477.3 160.8,463.8 161.3,463.1 161.7,466.2 162.2,455.2 162.7,464.9 163.2,480.6 163.6,454.9 164.1,460.5 164.6,463.5 165.1,490.1 165.5,465.2 166.0,465.2 166.5,487.8 167.0,464.0 167.4,474.4 167.9,477.9 168.4,484.0 168.9,487.6 169.3,482.4 169.8,458.7 170.3,475.3 170.8,474.3 171.3,482.4 171.7,481.3 172.2,479.9 172.7,482.9 173.2,462.5 173.6,475.7 174.1,463.2 174.6,458.6 175.1,463.0 175.5,473.9 176.0,466.5 176.5,475.8 177.0,485.2 177.4,465.1 177.9,482.7 178.4,436.1 178.9,487.4 179.3,476.0 179.8,481.0 180.3,473.2 180.8,471.5 181.2,481.7 181.7,488.9 182.2,467.3 182.7,460.6 183.1,462.1 183.6,483.4 184.1,460.9 184.6,464.4 185.1,466.8 185.5,466.3 186.0,476.1 186.5,471.1 187.0,456.7 187.4,480.9 187.9,491.3 188.4,478.8 188.9,477.0 189.3,494.7 189.8,487.1 190.3,475.9 190.8,482.0 191.2,479.3 191.7,491.4 192.2,470.6 192.7,461.9 193.1,480.2 193.6,485.0 194.1,488.9 194.6,467.8 195.0,475.3 195.5,484.1 196.0,458.3 196.5,468.6 197.0,471.1 197.4,493.6 197.9,479.7 198.4,473.6 198.9,491.5 199.3,472.7 199.8,469.0 200.3,473.0 200.8,488.6 201.2,488.8 201.7,475.4 202.2,475.5 202.7,474.1 203.1,474.9 203.6,485.7 204.1,488.5 204.6,497.9 205.0,477.9 205.5,464.6 206.0,484.0 206.5,482.2 206.9,468.6 207.4,470.7 207.9,489.0 208.4,481.3 208.8,485.1 209.3,387.0 209.8,479.7 210.3,419.2 210.8,448.8 211.2,449.7 211.7,455.7 212.2,454.0 212.7,485.8 213.1,473.5 213.6,476.4 214.1,468.7 214.6,434.3 215.0,485.5 215.5,456.6 216.0,438.0 216.5,448.6 216.9,450.4 217.4,474.5 217.9,441.8 218.4,465.3 218.8,447.7 219.3,459.8 219.8,470.8 220.3,467.3 220.7,462.4 221.2,450.4 221.7,456.6 222.2,426.3 222.7,411.1 223.1,463.9 223.6,468.0 224.1,469.1 224.6,479.6 225.0,472.6 225.5,443.2 226.0,436.4 226.5,460.2 226.9,452.3 227.4,441.4 227.9,449.1 228.4,448.3 228.8,469.3 229.3,466.2 229.8,474.5 230.3,466.4 230.7,477.1 231.2,444.2 231.7,470.8 232.2,471.9 232.6,473.0 233.1,476.2 233.6,455.5 234.1,475.5 234.5,483.7 235.0,470.5 235.5,485.1 236.0,485.0 236.5,472.1 236.9,491.0 237.4,491.1 237.9,470.3 238.4,462.2 238.8,491.3 239.3,483.7 239.8,465.8 240.3,489.5 240.7,479.4 241.2,482.3 241.7,467.4 242.2,485.3 242.6,447.9 243.1,434.8 243.6,457.0 244.1,467.5 244.5,486.1 245.0,467.9 245.5,484.5 246.0,468.7 246.4,480.5 246.9,474.2 247.4,471.7 247.9,458.1 248.4,456.5 248.8,478.6 249.3,464.1 249.8,441.9 250.3,454.0 250.7,471.8 251.2,463.5 251.7,467.2 252.2,449.6 252.6,462.9 253.1,458.8 253.6,437.3 254.1,483.6 254.5,479.1 255.0,487.1 255.5,487.4 256.0,454.7 256.4,461.3 256.9,442.2 257.4,485.7 257.9,475.2 258.3,441.5 258.8,442.6 259.3,447.5 259.8,446.7 260.2,458.6 260.7,458.7 261.2,457.5 261.7,444.2 262.2,447.3 262.6,451.1 263.1,432.3 263.6,473.6 264.1,468.9 264.5,450.2 265.0,464.4 265.5,395.7 266.0,436.4 266.4,460.1 266.9,472.6 267.4,454.3 267.9,442.2 268.3,481.4 268.8,475.3 269.3,464.6 269.8,442.6 270.2,438.4 270.7,457.6 271.2,469.7 271.7,456.9 272.1,474.2 272.6,471.0 273.1,460.3 273.6,432.3 274.1,484.1 274.5,453.8 275.0,439.2 275.5,447.6 276.0,429.7 276.4,457.8 276.9,467.2 277.4,430.4 277.9,487.3 278.3,468.0 278.8,493.0 279.3,484.9 279.8,459.8 280.2,491.6 280.7,498.4 281.2,490.1 281.7,487.3 282.1,488.2 282.6,484.7 283.1,492.0 283.6,471.1 284.0,491.2 284.5,490.2 285.0,499.4 285.5,503.1 285.9,501.3 286.4,493.0 286.9,494.5 287.4,502.9 287.9,499.2 288.3,496.6 288.8,494.9 289.3,502.3 289.8,500.8 290.2,494.9 290.7,492.9 291.2,494.7 291.7,504.3 292.1,498.8 292.6,501.5 293.1,500.7 293.6,502.9 294.0,502.3 294.5,500.8 295.0,494.7 295.5,498.5 295.9,499.6 296.4,501.0 296.9,503.6 297.4,502.0 297.8,497.3 298.3,498.7 298.8,495.1 299.3,500.7 299.8,501.7 300.2,506.8 300.7,500.5 301.2,506.9 301.7,497.2 302.1,504.0 302.6,501.8 303.1,505.8 303.6,502.7 304.0,503.8 304.5,486.1 305.0,498.9 305.5,503.9 305.9,505.3 306.4,499.2 306.9,500.9 307.4,503.4 307.8,496.8 308.3,499.9 308.8,498.8 309.3,501.5 309.7,501.5 310.2,501.1 310.7,505.5 311.2,497.1 311.6,498.0 312.1,505.6 312.6,499.1 313.1,494.9 313.6,498.3 314.0,494.0 314.5,500.0 315.0,498.8 315.5,503.9 315.9,502.3 316.4,505.0 316.9,502.0 317.4,497.2 317.8,496.0 318.3,493.1 318.8,497.3 319.3,502.0 319.7,495.8 320.2,498.3 320.7,490.0 321.2,489.3 321.6,493.6 322.1,502.6 322.6,499.9 323.1,496.9 323.5,500.7 324.0,495.4 324.5,494.7 325.0,494.1 325.5,496.7 325.9,501.5 326.4,501.3 326.9,498.2 327.4,491.7 327.8,490.2 328.3,492.4 328.8,494.9 329.3,493.0 329.7,492.0 330.2,489.3 330.7,491.0 331.2,481.1 331.6,490.6 332.1,493.5 332.6,497.7 333.1,493.0 333.5,494.2 334.0,496.0 334.5,503.5 335.0,495.3 335.4,493.3 335.9,496.3 336.4,503.6 336.9,494.0 337.3,492.9 337.8,495.5 338.3,494.4 338.8,497.6 339.3,498.8 339.7,492.6 340.2,496.6 340.7,493.4 341.2,483.3 341.6,489.7 342.1,492.5 342.6,501.9 343.1,478.6 343.5,487.9 344.0,496.2 344.5,493.1 345.0,501.1 345.4,473.6 345.9,494.5 346.4,486.2 346.9,481.5 347.3,491.4 347.8,484.5 348.3,489.3 348.8,492.4 349.2,493.1 349.7,496.7 350.2,484.2" fill="none" stroke="#4232dc" stroke-width="2.0" stroke-linejoin="round"/>
<polyline points="55.6,491.3 56.1,489.3 56.6,489.3 57.0,492.9 57.5,495.3 58.0,494.3 58.5,494.3 58.9,494.2 59.4,498.0 59.9,498.8 60.4,496.6 60.8,497.0 61.3,495.9 61.8,496.7 62.3,497.5 62.7,496.7 63.2,492.4 63.7,494.5 64.2,494.3 64.6,493.8 65.1,491.2 65.6,492.1 66.1,493.9 66.5,494.4 67.0,494.9 67.5,495.4 68.0,495.9 68.5,496.7 68.9,499.0 69.4,495.3 69.9,497.8 70.4,495.8 70.8,497.3 71.3,494.8 71.8,495.6 72.3,494.1 72.7,491.8 73.2,495.1 73.7,494.1 74.2,497.4 74.6,496.3 75.1,495.3 75.6,496.6 76.1,496.2 76.5,496.3 77.0,497.6 77.5,495.3 78.0,496.9 78.4,493.0 78.9,496.1 79.4,494.2 79.9,494.9 80.3,493.6 80.8,495.9 81.3,493.7 81.8,495.4 82.3,493.5 82.7,494.5 83.2,495.3 83.7,496.6 84.2,494.6 84.6,495.1 85.1,493.5 85.6,496.1 86.1,494.6 86.5,494.4 87.0,494.5 87.5,494.4 88.0,494.2 88.4,495.2 88.9,495.6 89.4,494.5 89.9,492.8 90.3,491.4 90.8,492.5 91.3,492.6 91.8,493.2 92.2,493.6 92.7,494.5 93.2,493.9 93.7,492.7 94.2,495.9 94.6,496.6 95.1,493.1 95.6,495.3 96.1,494.1 96.5,494.1 97.0,496.8 97.5,492.1 98.0,492.3 98.4,494.5 98.9,493.5 99.4,494.2 99.9,495.6 100.3,494.5 100.8,493.9 101.3,492.9 101.8,493.6 102.2,494.7 102.7,493.0 103.2,496.1 103.7,494.0 104.1,493.7 104.6,495.8 105.1,498.0 105.6,496.6 106.0,494.8 106.5,494.2 107.0,492.5 107.5,496.0 108.0,494.4 108.4,493.2 108.9,494.3 109.4,496.9 109.9,492.4 110.3,490.7 110.8,492.4 111.3,495.5 111.8,494.9 112.2,494.2 112.7,491.7 113.2,494.0 113.7,494.9 114.1,492.9 114.6,495.2 115.1,492.3 115.6,495.9 116.0,495.5 116.5,493.7 117.0,492.6 117.5,493.7 117.9,494.1 118.4,497.1 118.9,495.3 119.4,494.9 119.9,494.6 120.3,492.7 120.8,494.0 121.3,492.0 121.8,493.0 122.2,493.3 122.7,492.2 123.2,491.3 123.7,490.2 124.1,492.1 124.6,491.4 125.1,493.0 125.6,487.3 126.0,487.2 126.5,490.0 127.0,490.4 127.5,491.6 127.9,488.8 128.4,488.5 128.9,484.9 129.4,487.8 129.8,488.0 130.3,488.9 130.8,478.9 131.3,481.1 131.7,484.9 132.2,479.4 132.7,483.5 133.2,472.9 133.7,474.7 134.1,475.6 134.6,477.2 135.1,482.1 135.6,476.0 136.0,479.8 136.5,472.7 137.0,480.2 137.5,476.1 137.9,468.6 138.4,466.4 138.9,475.1 139.4,475.7 139.8,466.7 140.3,466.0 140.8,471.9 141.3,470.2 141.7,469.5 142.2,471.7 142.7,470.7 143.2,464.9 143.6,467.8 144.1,464.4 144.6,472.4 145.1,473.5 145.6,477.1 146.0,475.3 146.5,479.0 147.0,479.3 147.5,470.2 147.9,466.5 148.4,467.2 148.9,464.1 149.4,466.7 149.8,469.1 150.3,464.8 150.8,465.4 151.3,467.2 151.7,469.8 152.2,469.8 152.7,464.9 153.2,465.3 153.6,468.6 154.1,462.6 154.6,468.1 155.1,467.7 155.5,466.5 156.0,474.3 156.5,478.9 157.0,471.2 157.4,476.6 157.9,471.5 158.4,475.4 158.9,473.8 159.4,473.4 159.8,480.9 160.3,471.5 160.8,475.0 161.3,474.3 161.7,472.3 162.2,467.2 162.7,465.8 163.2,464.9 163.6,475.1 164.1,472.1 164.6,477.5 165.1,471.8 165.5,470.3 166.0,475.4 166.5,473.0 167.0,473.8 167.4,472.2 167.9,478.4 168.4,479.1 168.9,479.6 169.3,473.3 169.8,475.2 170.3,477.7 170.8,475.8 171.3,475.2 171.7,474.1 172.2,474.5 172.7,474.0 173.2,476.5 173.6,474.7 174.1,467.6 174.6,471.4 175.1,473.1 175.5,474.3 176.0,473.6 176.5,473.6 177.0,477.9 177.4,476.7 177.9,477.9 178.4,481.8 178.9,481.1 179.3,480.8 179.8,480.1 180.3,473.4 180.8,481.2 181.2,475.0 181.7,475.2 182.2,474.3 182.7,471.0 183.1,466.5 183.6,469.2 184.1,469.0 184.6,471.3 185.1,470.7 185.5,468.2 186.0,473.7 186.5,477.1 187.0,478.4 187.4,478.9 187.9,480.7 188.4,474.7 188.9,477.9 189.3,480.5 189.8,477.3 190.3,482.8 190.8,478.7 191.2,478.1 191.7,483.8 192.2,483.4 192.7,481.3 193.1,475.7 193.6,474.1 194.1,480.8 194.6,473.8 195.0,477.5 195.5,477.0 196.0,477.3 196.5,477.3 197.0,482.4 197.4,480.7 197.9,482.1 198.4,478.1 198.9,475.0 199.3,475.9 199.8,482.4 200.3,486.3 200.8,483.4 201.2,485.1 201.7,478.5 202.2,482.3 202.7,485.7 203.1,482.3 203.6,483.7 204.1,488.9 204.6,486.8 205.0,484.7 205.5,481.9 206.0,479.4 206.5,478.5 206.9,474.3 207.4,471.0 207.9,466.5 208.4,450.1 208.8,449.1 209.3,442.5 209.8,448.4 210.3,436.3 210.8,439.1 211.2,458.3 211.7,455.8 212.2,470.2 212.7,470.1 213.1,469.7 213.6,466.2 214.1,460.1 214.6,464.2 215.0,457.0 215.5,467.3 216.0,468.8 216.5,463.5 216.9,471.0 217.4,469.4 217.9,464.1 218.4,461.7 218.8,471.9 219.3,462.1 219.8,455.4 220.3,456.9 220.7,461.7 221.2,462.2 221.7,459.8 222.2,462.5 222.7,457.6 223.1,457.4 223.6,457.4 224.1,451.5 224.6,458.0 225.0,463.7 225.5,452.6 226.0,462.2 226.5,459.6 226.9,458.3 227.4,459.4 227.9,462.9 228.4,460.9 228.8,452.8 229.3,464.9 229.8,464.3 230.3,460.8 230.7,463.7 231.2,465.0 231.7,465.6 232.2,476.1 232.6,472.8 233.1,469.9 233.6,469.3 234.1,467.2 234.5,470.6 235.0,473.4 235.5,472.7 236.0,473.6 236.5,472.3 236.9,471.1 237.4,474.4 237.9,476.1 238.4,476.3 238.8,470.3 239.3,469.9 239.8,469.2 240.3,467.6 240.7,465.6 241.2,466.7 241.7,462.2 242.2,467.1 242.6,461.8 243.1,463.0 243.6,458.4 244.1,465.2 244.5,464.8 245.0,464.3 245.5,462.4 246.0,471.6 246.4,473.5 246.9,467.7 247.4,473.0 247.9,466.2 248.4,468.6 248.8,465.6 249.3,471.0 249.8,459.6 250.3,463.3 250.7,464.9 251.2,453.5 251.7,459.4 252.2,454.8 252.6,461.8 253.1,465.3 253.6,464.1 254.1,458.9 254.5,465.7 255.0,464.5 255.5,464.8 256.0,469.4 256.4,464.7 256.9,466.4 257.4,468.5 257.9,459.3 258.3,459.4 258.8,461.0 259.3,464.3 259.8,468.3 260.2,457.0 260.7,459.0 261.2,465.4 261.7,457.6 262.2,463.6 262.6,456.3 263.1,455.0 263.6,453.8 264.1,456.2 264.5,458.1 265.0,465.3 265.5,463.8 266.0,465.9 266.4,466.5 266.9,466.3 267.4,465.9 267.9,461.7 268.3,474.5 268.8,465.2 269.3,466.9 269.8,458.1 270.2,461.6 270.7,471.1 271.2,462.6 271.7,465.2 272.1,456.8 272.6,463.3 273.1,457.0 273.6,454.9 274.1,452.6 274.5,452.9 275.0,457.3 275.5,443.0 276.0,439.1 276.4,453.1 276.9,465.3 277.4,468.6 277.9,475.9 278.3,482.6 278.8,483.1 279.3,480.6 279.8,487.3 280.2,486.8 280.7,490.5 281.2,488.8 281.7,489.7 282.1,491.0 282.6,491.4 283.1,487.9 283.6,492.3 284.0,493.1 284.5,490.7 285.0,494.8 285.5,498.1 285.9,496.1 286.4,498.8 286.9,496.7 287.4,500.9 287.9,500.3 288.3,501.4 288.8,499.7 289.3,500.9 289.8,500.0 290.2,500.4 290.7,500.7 291.2,499.2 291.7,499.3 292.1,500.3 292.6,501.3 293.1,501.6 293.6,500.3 294.0,498.7 294.5,501.2 295.0,501.6 295.5,501.6 295.9,502.0 296.4,502.0 296.9,501.3 297.4,499.9 297.8,501.3 298.3,501.9 298.8,503.0 299.3,501.4 299.8,501.7 300.2,502.8 300.7,502.8 301.2,501.9 301.7,501.1 302.1,501.5 302.6,501.6 303.1,501.7 303.6,500.7 304.0,500.6 304.5,498.1 305.0,501.0 305.5,499.8 305.9,497.6 306.4,499.3 306.9,497.4 307.4,499.1 307.8,499.0 308.3,499.6 308.8,500.7 309.3,500.3 309.7,497.1 310.2,498.6 310.7,498.7 311.2,498.4 311.6,498.9 312.1,498.4 312.6,499.7 313.1,499.6 313.6,498.1 314.0,499.5 314.5,500.5 315.0,499.1 315.5,499.4 315.9,497.9 316.4,499.3 316.9,499.6 317.4,498.6 317.8,496.3 318.3,498.1 318.8,497.7 319.3,497.8 319.7,497.3 320.2,496.5 320.7,496.0 321.2,499.7 321.6,496.0 322.1,497.7 322.6,498.1 323.1,495.2 323.5,497.9 324.0,495.3 324.5,496.5 325.0,498.9 325.5,497.1 325.9,496.8 326.4,497.8 326.9,500.1 327.4,497.9 327.8,497.4 328.3,498.3 328.8,494.1 329.3,496.5 329.7,496.4 330.2,496.0 330.7,496.4 331.2,496.3 331.6,495.2 332.1,495.0 332.6,496.2 333.1,495.7 333.5,497.6 334.0,495.0 334.5,496.8 335.0,495.6 335.4,497.2 335.9,496.7 336.4,495.8 336.9,497.8 337.3,493.6 337.8,496.4 338.3,496.4 338.8,497.0 339.3,493.3 339.7,493.2 340.2,494.3 340.7,496.4 341.2,494.8 341.6,492.6 342.1,494.0 342.6,494.8 343.1,494.6 343.5,493.6 344.0,492.0 344.5,492.8 345.0,491.4 345.4,487.6 345.9,487.7 346.4,492.4 346.9,489.6 347.3,490.2 347.8,490.9 348.3,489.0 348.8,491.7 349.2,491.9 349.7,492.2 350.2,492.0" fill="none" stroke="#eedb25" stroke-width="2.6" stroke-linejoin="round"/>
<line x1="69.00" y1="347.50" x2="98.70" y2="347.50" stroke="#4232dc" stroke-width="2"/>
<line x1="69.00" y1="367.90" x2="98.70" y2="367.90" stroke="#eedb25" stroke-width="2"/>
<text x="102.00" y="353.70" font-family="Liberation Sans" font-size="16.5" text-anchor="start" fill="#000" >Data</text>
<text x="102.00" y="373.80" font-family="Liberation Sans" font-size="16.5" text-anchor="start" fill="#000" >Prediction</text>
</svg></body></html>
